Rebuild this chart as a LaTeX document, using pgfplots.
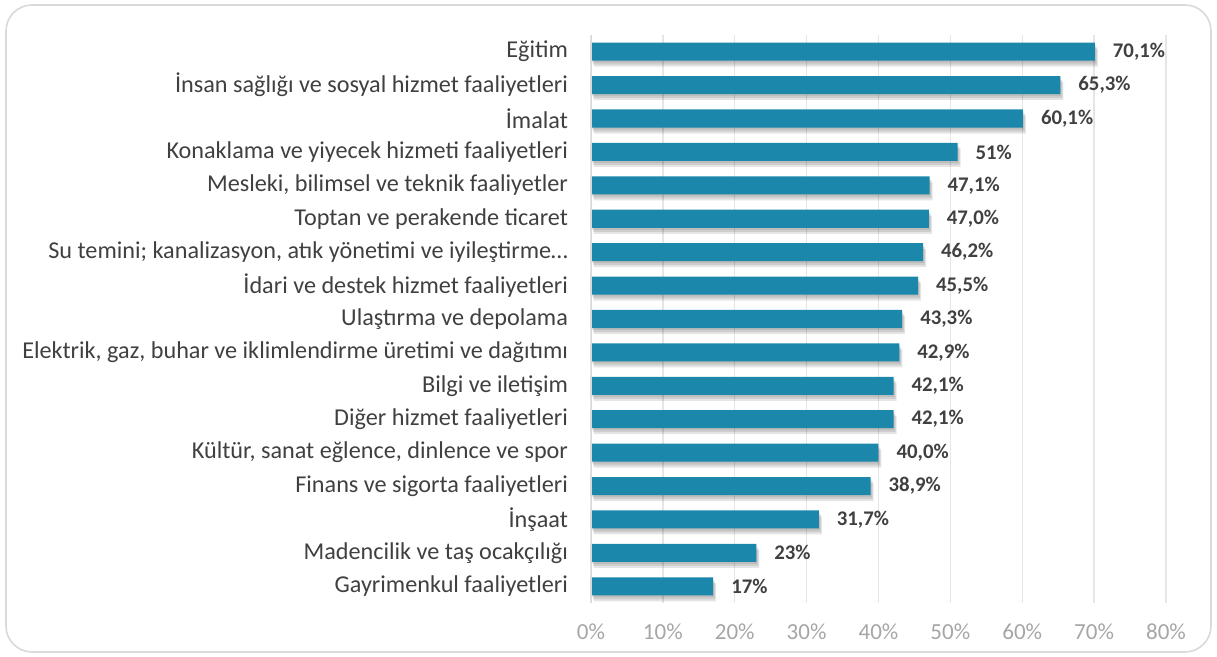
\documentclass[border=0pt]{standalone}
\usepackage{pgfplots}
\usepackage{pgfplotstable}
\pgfplotsset{compat=1.18}
\usepackage{fontspec}
\setmainfont{Carlito}
\definecolor{barc}{HTML}{1B87AA}
\definecolor{lbl}{HTML}{404040}
\definecolor{tickc}{HTML}{A6A6A6}
\definecolor{gridc}{HTML}{E6E6E6}
\definecolor{framec}{HTML}{D9D9D9}

% value, position (0 = bottom), label
\pgfplotstableread{
val  pos lab
17   0   17\%
23   1   23\%
31.7 2   31,7\%
38.9 3   38,9\%
40.0 4   40,0\%
42.1 5   42,1\%
42.1 6   42,1\%
42.9 7   42,9\%
43.3 8   43,3\%
45.5 9   45,5\%
46.2 10  46,2\%
47.0 11  47,0\%
47.1 12  47,1\%
51   13  51\%
60.1 14  60,1\%
65.3 15  65,3\%
70.1 16  70,1\%
}\sectors

\begin{document}
\begin{tikzpicture}
\path (0pt,0pt) rectangle (608.5pt,328.5pt);
\draw[framec, line width=0.8pt, rounded corners=13pt] (3pt,2.5pt) rectangle (605.5pt,326pt);
\begin{axis}[
    at={(295.5pt,27pt)}, anchor=south west,
    scale only axis,
    width=287.5pt, height=284pt,
    xbar, bar width=0.54,
    xmin=0, xmax=80,
    ymin=-0.5, ymax=16.5,
    xtick={0,10,...,80},
    xticklabel={\pgfmathprintnumber{\tick}\%},
    ytick={0,...,16},
    yticklabels={Gayrimenkul faaliyetleri, Madencilik ve taş ocakçılığı, İnşaat,
        Finans ve sigorta faaliyetleri, {Kültür, sanat eğlence, dinlence ve spor},
        Diğer hizmet faaliyetleri, Bilgi ve iletişim,
        {Elektrik, gaz, buhar ve iklimlendirme üretimi ve dağıtımı},
        Ulaştırma ve depolama, İdari ve destek hizmet faaliyetleri,
        {Su temini; kanalizasyon, atık yönetimi ve iyileştirme…},
        Toptan ve perakende ticaret, {Mesleki, bilimsel ve teknik faaliyetler},
        Konaklama ve yiyecek hizmeti faaliyetleri, İmalat,
        İnsan sağlığı ve sosyal hizmet faaliyetleri, Eğitim},
    xmajorgrids, grid style={gridc, line width=0.7pt},
    axis line style={draw=none},
    major tick length=0pt,
    /pgf/number format/assume math mode=true,
    xticklabel style={tickc, font=\fontsize{11.5}{13}\selectfont, yshift=-7pt},
    yticklabel style={lbl, font=\fontsize{12.1}{14}\selectfont, xshift=-8pt},
]
% soft shadow layers
\addplot[fill=black, draw=none, opacity=0.08, bar shift=0pt, xshift=0.5pt, yshift=-1pt, forget plot]
    table[x=val, y=pos] {\sectors};
\addplot[fill=black, draw=none, opacity=0.10, bar shift=0pt, xshift=1pt, yshift=-2pt, forget plot]
    table[x=val, y=pos] {\sectors};
\addplot[fill=black, draw=none, opacity=0.10, bar shift=0pt, xshift=1.5pt, yshift=-3pt, forget plot]
    table[x=val, y=pos] {\sectors};
\addplot[fill=barc, draw=none, bar shift=0pt,
    nodes near coords, point meta=explicit symbolic,
    nodes near coords style={lbl, font=\bfseries\fontsize{10.4}{12}\selectfont, anchor=west, xshift=5.5pt}]
    table[x=val, y=pos, meta=lab] {\sectors};
\draw[framec, line width=0.8pt] (axis cs:0,-0.5) -- (axis cs:0,16.5);
\end{axis}
\end{tikzpicture}
\end{document}
